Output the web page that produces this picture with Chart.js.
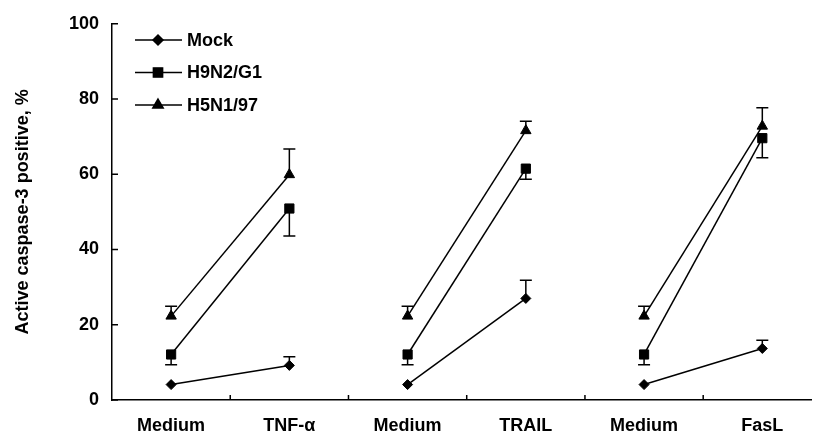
<!DOCTYPE html>
<html>
<head>
<meta charset="utf-8">
<script src="https://cdn.jsdelivr.net/npm/chart.js@4.4.1/dist/chart.umd.min.js"></script>
<style>
	html, body { margin: 0; padding: 0; background: #fff; }
	#wrap { width: 819px; height: 437px; }
</style>
</head>
<body>
<div id="wrap"><canvas id="chart" width="819" height="437"></canvas></div>
<script>
// categories along the x axis
var categories = ['Medium', 'TNF-\u03b1', 'Medium', 'TRAIL', 'Medium', 'FasL'];
var yTicks = [0, 20, 40, 60, 80, 100];

// series values (%)
var mock    = [4.1, 9.2, 4.1, 27.0, 4.1, 13.7];
var h9n2    = [12.1, 50.9, 12.1, 61.5, 12.1, 69.6];
var h5n1    = [22.3, 59.9, 22.3, 71.6, 22.3, 72.8];

// error bar lengths
var mockErr = [0, 2.3, 0, 4.8, 0, 2.2];
var h9n2Err = [2.7, 7.3, 2.7, 2.8, 2.7, 5.2];
var h5n1Err = [2.6, 6.8, 2.6, 2.5, 2.6, 4.9];

var FONT = 'Liberation Sans, Arial, Helvetica, sans-serif';

function toPoints(arr) {
	return arr.map(function(v, i) { return { x: i, y: v }; });
}

function makeSet(label, values, errs, dir, style, radius) {
	return {
		label: label,
		data: toPoints(values),
		errs: errs,
		errDir: dir,
		borderColor: '#000',
		backgroundColor: '#000',
		borderWidth: 1.5,
		pointStyle: style,
		pointRadius: radius,
		pointHoverRadius: radius,
		pointBackgroundColor: '#000',
		pointBorderColor: '#000',
		pointBorderWidth: 1,
		segment: {
			// only join Medium -> treatment
			borderColor: function(ctx) { return ctx.p0DataIndex % 2 ? 'rgba(0,0,0,0)' : '#000'; }
		}
	};
}

var datasets = [
	makeSet('Mock', mock, mockErr, 1, 'rectRot', 5),
	makeSet('H9N2/G1', h9n2, h9n2Err, -1, 'rect', 6.5),
	makeSet('H5N1/97', h5n1, h5n1Err, 1, 'triangle', 6)
];

var errorBars = {
	id: 'errorBars',
	beforeDatasetsDraw: function(chart) {
		var ctx = chart.ctx, ys = chart.scales.y;
		ctx.save();
		ctx.strokeStyle = '#000';
		ctx.lineWidth = 1.5;
		chart.data.datasets.forEach(function(ds, i) {
			var meta = chart.getDatasetMeta(i);
			ds.data.forEach(function(p, j) {
				var e = ds.errs[j];
				if (!e) return;
				var x = meta.data[j].x;
				var y0 = ys.getPixelForValue(p.y);
				var y1 = ys.getPixelForValue(p.y + ds.errDir * e);
				ctx.beginPath();
				ctx.moveTo(x, y0);
				ctx.lineTo(x, y1);
				ctx.moveTo(x - 6, y1);
				ctx.lineTo(x + 6, y1);
				ctx.stroke();
			});
		});
		ctx.restore();
	}
};

var innerTicks = {
	id: 'innerTicks',
	afterDraw: function(chart) {
		var ctx = chart.ctx, xs = chart.scales.x, ys = chart.scales.y;
		var a = chart.chartArea;
		ctx.save();
		ctx.strokeStyle = '#000';
		ctx.lineWidth = 1.5;
		ctx.beginPath();
		yTicks.forEach(function(t) {
			var y = ys.getPixelForValue(t);
			ctx.moveTo(a.left, y);
			ctx.lineTo(a.left + 6, y);
		});
		for (var i = 0; i < categories.length - 1; i++) {
			var x = xs.getPixelForValue(i + 0.5);
			ctx.moveTo(x, a.bottom);
			ctx.lineTo(x, a.bottom - 5);
		}
		ctx.stroke();
		ctx.restore();
	}
};

var lineLegend = {
	id: 'lineLegend',
	afterDraw: function(chart) {
		var ctx = chart.ctx;
		ctx.save();
		chart.data.datasets.forEach(function(ds, i) {
			var y = 40 + i * 32.5;
			ctx.strokeStyle = '#000';
			ctx.lineWidth = 1.5;
			ctx.beginPath();
			ctx.moveTo(135, y);
			ctx.lineTo(182, y);
			ctx.stroke();
			ctx.fillStyle = '#000';
			Chart.helpers.drawPoint(ctx, { pointStyle: ds.pointStyle, radius: ds.pointRadius, borderWidth: 1, rotation: 0 }, 158, y);
			ctx.fill();
			ctx.fillStyle = '#000';
			ctx.font = 'bold 18px ' + FONT;
			ctx.textBaseline = 'middle';
			ctx.textAlign = 'left';
			ctx.fillText(ds.label, 187, y + 1);
		});
		ctx.restore();
	}
};

var chart = new Chart(document.getElementById('chart'), {
	type: 'line',
	data: { datasets: datasets },
	plugins: [errorBars, innerTicks, lineLegend],
	options: {
		responsive: false,
		animation: false,
		devicePixelRatio: 1,
		layout: { padding: { top: 19, left: 0, right: 0, bottom: 0 } },
		plugins: {
			legend: { display: false },
			tooltip: { enabled: false }
		},
		scales: {
			x: {
				type: 'linear',
				min: -0.5,
				max: 5.416,
				afterBuildTicks: function(s) {
					s.ticks = categories.map(function(c, i) { return { value: i }; });
				},
				afterFit: function(s) { s.height = 37; },
				ticks: {
					autoSkip: false,
					maxRotation: 0,
					padding: 15,
					color: '#000',
					font: { family: FONT, size: 18, weight: 'bold' },
					callback: function(v) { return categories[v]; }
				},
				grid: { drawOnChartArea: false, drawTicks: false },
				border: { color: '#000', width: 1.5 }
			},
			y: {
				min: 0,
				max: 100,
				afterBuildTicks: function(s) {
					s.ticks = yTicks.map(function(v) { return { value: v }; });
				},
				afterFit: function(s) { s.width = 112; },
				ticks: {
					padding: 13,
					color: '#000',
					font: { family: FONT, size: 18, weight: 'bold' }
				},
				grid: { drawOnChartArea: false, drawTicks: false },
				border: { color: '#000', width: 1.5 },
				title: {
					display: true,
					text: 'Active caspase-3 positive, %',
					color: '#000',
					font: { family: FONT, size: 18, weight: 'bold' },
					padding: { top: 12, bottom: 0 }
				}
			}
		}
	}
});
</script>
</body>
</html>
